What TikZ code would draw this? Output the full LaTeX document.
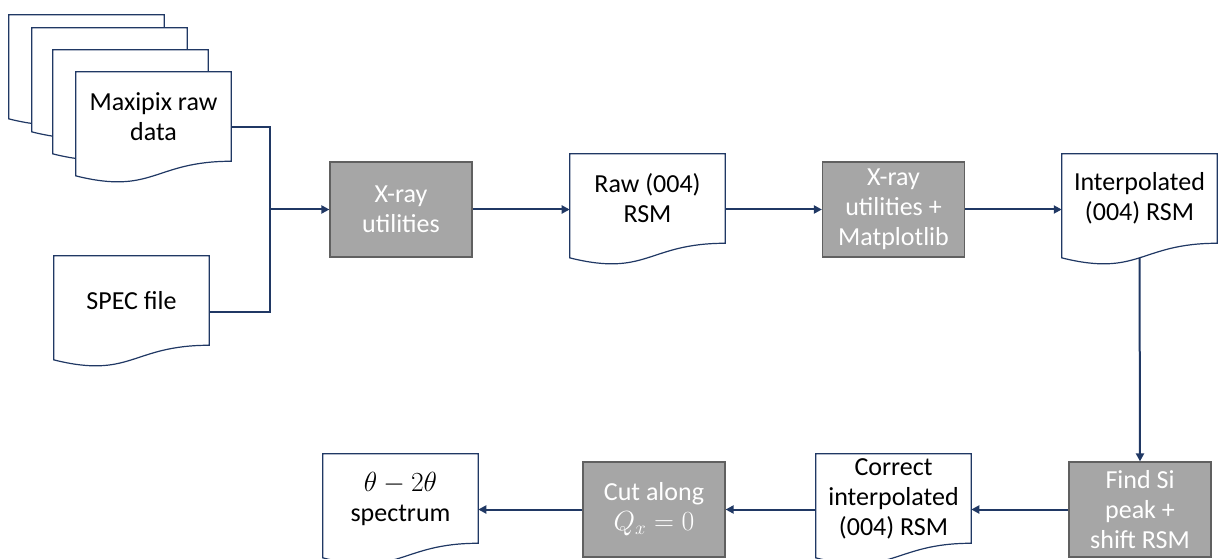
\documentclass[tikz,border=0pt]{standalone}
\usepackage{fontspec}
\setmainfont{Carlito}
\usetikzlibrary{arrows.meta,calc}
\definecolor{navy}{RGB}{32,56,100}
\definecolor{boxgray}{RGB}{166,166,166}
\definecolor{boxedge}{RGB}{96,96,96}
\tikzset{
  doc/.style={rectangle, minimum width=116.25pt, minimum height=66.75pt, inner sep=0pt, align=center, font=\fontsize{19.5}{22.5}\selectfont},
  docline/.style={draw=navy, line width=0.9pt, fill=white},
  procbox/.style={rectangle, draw=boxedge, line width=0.9pt, fill=boxgray, minimum width=106.5pt, minimum height=71.25pt, inner sep=0pt, align=center, text=white, font=\fontsize{19.5}{22.5}\selectfont},
  flow/.style={draw=navy, line width=1.5pt, -{Triangle[length=6pt,width=6pt]}},
  flowline/.style={draw=navy, line width=1.5pt},
}
\newcommand{\docnode}[4]{%
  \node[doc] (#1) at (#2+77.5,#3+44.5) {};
  \draw[docline] (#1.north west) -- (#1.north east) -- (#1.south east)
    .. controls (#1.south) and ($(#1.south)+(0,34)$) .. ($(#1.south west)+(0,14.6)$) -- cycle;
  \node[doc] (#1-t) at (#1) {#4};
  \coordinate (#1-e) at ($(#1.east)+(0,11)$);
  \coordinate (#1-w) at ($(#1.west)+(0,11)$);
  \coordinate (#1-s) at ($(#1.south)+(0,14.6)$);
}
\begin{document}
\begin{tikzpicture}[x=0.75pt,y=-0.75pt]
\useasboundingbox (0,0) rectangle (1219,559);
% stacked Maxipix documents
\docnode{m1}{9}{15}{}
\docnode{m2}{32}{28}{}
\docnode{m3}{53}{50}{}
\docnode{m4}{76}{72}{Maxipix raw\\data}
\docnode{spec}{54}{256}{SPEC file}
\docnode{raw}{570}{154}{Raw (004)\\RSM}
\docnode{interp}{1062}{154}{Interpolated\\(004) RSM}
\docnode{corr}{816}{454}{Correct\\interpolated\\(004) RSM}
\docnode{theta}{323}{454}{$\theta-2\theta$\\spectrum}
% process boxes
\node[procbox] (b1) at (401,209.5) {X-ray\\utilities};
\node[procbox] (b2) at (893.5,209.5) {X-ray\\utilities +\\Matplotlib};
\node[procbox] (find) at (1140,509.5) {Find Si\\peak +\\shift RSM};
\node[procbox] (cut) at (654,509.5) {Cut along\\$Q_x=0$};
% connectors
\coordinate (j) at (270,209.5);
\draw[flowline] (m4-e) -| (j);
\draw[flowline] (spec-e) -| (j);
\draw[flow] (j) -- (b1.west);
\draw[flow] (b1.east) -- (raw-w);
\draw[flow] (raw-e) -- (b2.west);
\draw[flow] (b2.east) -- (interp-w);
\draw[flow] (interp-s) -- (find.north);
\draw[flow] (find.west) -- (corr-e);
\draw[flow] (corr-w) -- (cut.east);
\draw[flow] (cut.west) -- (theta-e);
\end{tikzpicture}
\end{document}
